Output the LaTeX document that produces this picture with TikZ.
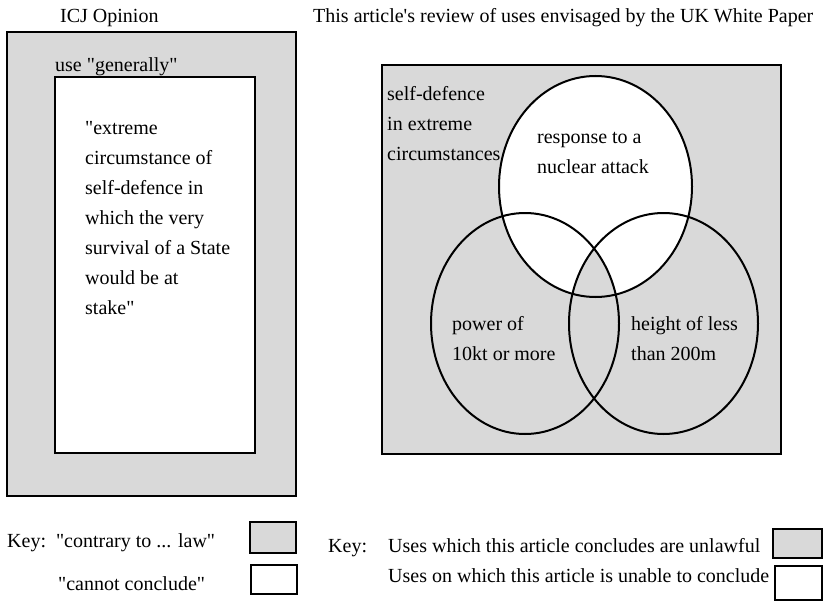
\documentclass[tikz,border=0pt]{standalone}
\usepackage{fontspec}
\setmainfont{Liberation Serif}[Ligatures=TeXOff]
\definecolor{boxgray}{RGB}{217,217,217}
\tikzset{
  lbl/.style={inner sep=0pt, anchor=base west, font=\fontsize{20}{30}\selectfont},
  frame/.style={draw=black, line width=2.2pt},
  ring/.style={draw=black, line width=2pt},
}
\begin{document}
\begin{tikzpicture}[x=1pt, y=-1pt]
\useasboundingbox (0,0) rectangle (825,602);
% ---- left panel ----
\node[lbl] (icj) at (60,23) {ICJ Opinion};
\draw[frame, fill=boxgray] (7,32) rectangle (296,496);
\node[lbl] (gen) at (55,72) {use "generally"};
\draw[frame, fill=white] (55,77) rectangle (255,453);
\node[lbl, align=left, anchor=north west] (ext) at (85,121)
  {"extreme\\circumstance of\\self-defence in\\which the very\\survival of a State\\would be at\\stake"};
% ---- right panel ----
\node[lbl] (title) at (313,23) {This article's review of uses envisaged by the UK White Paper};
\draw[frame, fill=boxgray] (382,65) rectangle (781,454);
\fill[white] (595.5,186.5) ellipse [x radius=96.5, y radius=110.5];
\begin{scope}
  \clip (525,323.5) ellipse [x radius=94, y radius=110.5];
  \fill[boxgray] (663.5,323.5) ellipse [x radius=94.5, y radius=110.5];
\end{scope}
\draw[ring] (595.5,186.5) ellipse [x radius=96.5, y radius=110.5];
\draw[ring] (525,323.5) ellipse [x radius=94, y radius=110.5];
\draw[ring] (663.5,323.5) ellipse [x radius=94.5, y radius=110.5];
\node[lbl] (sd1) at (387,100) {self-defence};
\node[lbl] (sd2) at (387,130) {in extreme};
\node[lbl] (sd3) at (387,160) {circumstances};
\node[lbl] (rn1) at (537,143) {response to a};
\node[lbl] (rn2) at (537,173) {nuclear attack};
\node[lbl] (pw1) at (452,330) {power of};
\node[lbl] (pw2) at (452,360) {10kt or more};
\node[lbl] (ht1) at (631,330) {height of less};
\node[lbl] (ht2) at (631,360) {than 200m};
% ---- left key ----
\node[lbl] (k1) at (7,547) {Key:\ \ "contrary to ... law"};
\node[lbl] (k2) at (58,590) {"cannot conclude"};
\draw[frame, fill=boxgray] (250,522) rectangle (296,553);
\draw[frame, fill=white] (251,565) rectangle (297,594);
% ---- right key ----
\node[lbl] (k3) at (328,552) {Key:};
\node[lbl] (k4) at (388,552) {Uses which this article concludes are unlawful};
\node[lbl] (k5) at (388,582) {Uses on which this article is unable to conclude};
\draw[frame, fill=boxgray] (773,529) rectangle (822,558);
\draw[frame, fill=white] (775,566) rectangle (822,600);
\end{tikzpicture}
\end{document}
